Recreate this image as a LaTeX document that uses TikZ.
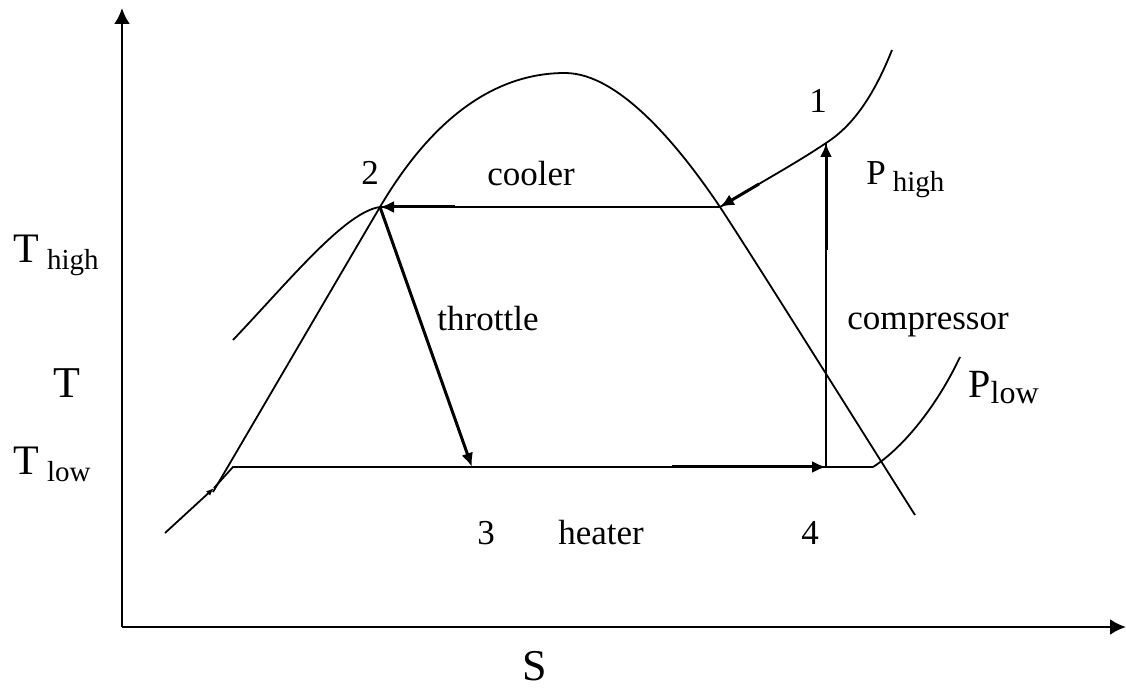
\documentclass[tikz,border=0pt]{standalone}
\usepackage{fontspec}
\setmainfont{Liberation Serif}
\usetikzlibrary{arrows.meta}

% index set lower, as in T high / P low
\newcommand{\lowidx}[3]{#1\hspace{#3}\raisebox{-3.5pt}{\fontsize{14.5}{16}\selectfont #2}}

\begin{document}
\begin{tikzpicture}[
        x=0.5pt, y=-0.5pt,            % one unit = one pixel of the sketch
        >={Latex[length=7pt,width=6pt]},
        axis/.style={line width=1.3pt, -{Latex[length=8pt,width=8pt]}},
        curve/.style={line width=0.9pt},
        flow/.style={line width=1.5pt, ->},
        lbl/.style={inner sep=0pt, anchor=base, font=\fontsize{17.5}{20}\selectfont},
        biglbl/.style={inner sep=0pt, anchor=base, font=\fontsize{22}{26}\selectfont},
        idxlbl/.style={inner sep=0pt, anchor=base west, font=\fontsize{21}{24}\selectfont}
    ]
    \useasboundingbox (0,0) rectangle (1126,689);

    % --- Assi ---
    \coordinate (O) at (122,627);
    \coordinate (Ttop) at (122,8);
    \coordinate (Send) at (1126,627);
    \draw[axis] (O) -- (Ttop);
    \draw[axis] (O) -- (Send);

    % --- Punti del ciclo ---
    \coordinate (S1) at (826,143);
    \coordinate (S2) at (380,207);
    \coordinate (S3) at (472,467);
    \coordinate (S4) at (826,467);
    \coordinate (V) at (720,207);     % cooler, lato vapore
    \coordinate (Top) at (565,73);    % vertice della campana
    \coordinate (L0) at (214,488);
    \coordinate (L) at (233,467);
    \coordinate (X) at (873,467);

    % --- Campana ---
    \draw[curve] (213,492) .. controls (270,395) and (330,292) .. (S2)
        .. controls (436,112) and (500,73) .. (Top)
        .. controls (620,73) and (681,149) .. (V)
        .. controls (760,268) and (880,460) .. (915,515);

    % --- Isobara alta ---
    \draw[curve] (233,340) .. controls (290,280) and (345,212) .. (S2);
    \draw[curve] (S2) -- (V);
    \draw[curve] (V) .. controls (765,180) and (798,162) .. (S1)
        .. controls (856,124) and (876,90) .. (892,50);

    % --- Isobara bassa ---
    \draw[curve, -{Latex[length=4pt,width=3pt]}] (165,533) -- (L0);
    \draw[curve] (L0) -- (L) -- (X);
    \draw[curve] (X) .. controls (900,450) and (935,410) .. (960,357);

    % --- Compressore ---
    \draw[curve] (S4) -- (S1);

    % --- Frecce del ciclo ---
    \draw[flow] (455,207) -- (S2);
    \draw[flow] (759,184) -- (V);
    \draw[flow] (826,250) -- (S1);
    \draw[flow] (672,467) -- (S4);
    \draw[flow] (S2) -- (S3);

    % --- Etichette ---
    \node[lbl] (n1) at (818,113) {1};
    \node[lbl] (n2) at (370,185) {2};
    \node[lbl] (n3) at (486,545) {3};
    \node[lbl] (n4) at (810,545) {4};
    \node[lbl] (cooler) at (531,186) {cooler};
    \node[lbl] (throttle) at (488,331) {throttle};
    \node[lbl] (compr) at (928,330) {compressor};
    \node[lbl] (heater) at (601,545) {heater};
    \node[biglbl] (T) at (67,398) {T};
    \node[biglbl] (S) at (535,681) {S};
    \node[idxlbl] (Thigh) at (13,263) {\lowidx{T}{high}{4pt}};
    \node[idxlbl] (Tlow) at (13,475) {\lowidx{T}{low}{4pt}};
    \node[idxlbl, font=\fontsize{17.5}{20}\selectfont] (Phigh) at (866,185) {\lowidx{P}{high}{3.5pt}};
    \node[idxlbl, font=\fontsize{20}{24}\selectfont] (Plow) at (968,398) {P\raisebox{-3pt}{\fontsize{16}{18}\selectfont low}};

\end{tikzpicture}
\end{document}
